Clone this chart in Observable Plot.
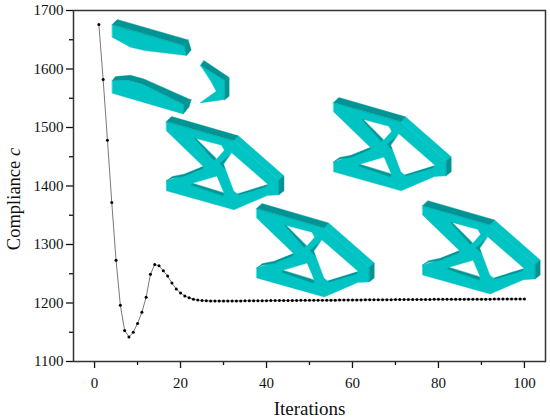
<!DOCTYPE html>
<html><head><meta charset="utf-8">
<script src="https://cdn.jsdelivr.net/npm/d3@7"></script>
<script src="https://cdn.jsdelivr.net/npm/@observablehq/plot@0.6"></script>
<style>html,body{margin:0;padding:0;background:#fff}</style>
</head><body><div id="chart"></div>
<script>
const iterations = d3.range(1,101);
const compliance = [1676,1582,1478,1372,1273,1196,1153,1142,1150,1165,1184,1210,1249,1266,1263.5,1255,1246,1234,1224,1217,
 1212,1209,1206.5,1205,1204.2,1203.8,1203.6,1203.5,1203.4,1203.4,1203.5,1203.5,1203.6,1203.6,1203.7,1203.8,1203.8,1203.9,1204,1204,
 1204.1,1204.2,1204.2,1204.3,1204.3,1204.4,1204.4,1204.5,1204.5,1204.6,1204.7,1204.7,1204.8,1204.8,1204.9,1204.9,1205,1205.1,1205.1,1205.2,
 1205.3,1205.3,1205.4,1205.4,1205.5,1205.6,1205.6,1205.7,1205.7,1205.8,1205.8,1205.9,1205.9,1206,1206,1206,1206.1,1206.1,1206.2,1206.2,
 1206.2,1206.3,1206.3,1206.4,1206.4,1206.4,1206.5,1206.5,1206.5,1206.6,1206.6,1206.6,1206.7,1206.7,1206.7,1206.8,1206.8,1206.8,1206.9,1206.9];
const series = iterations.map((x,i)=>({x,y:compliance[i]}));
const xMajor = [0,20,40,60,80,100], xMinor = [10,30,50,70,90];
const yMajor = [1100,1200,1300,1400,1500,1600,1700], yMinor = [1150,1250,1350,1450,1550,1650];

// Inset sketches: outline polygons in picture units, placed at data anchors
const UX = 12.9, UY = 1.755;
const trussAnchors = [[16.7,1518.8],[55.6,1551.3],[37.7,1370],[76.3,1375]];
const trussLight = [
 [[287,362],[490,420],[625,537],[625,582],[590,584],[490,627],[287,570],[287,540],[320,530],[398,497],[287,390]],
 [[490,420],[503,405],[640,525],[625,537]]];
const trussDark = [
 [[287,362],[303,347],[503,405],[490,420]],
 [[625,537],[640,525],[640,570],[625,582]],
 [[287,540],[305,527],[340,520],[398,497],[396,503],[340,526],[305,532]],
 [[372,412],[380,415],[437,472],[430,478]],
 [[362,552],[370,547],[458,573],[458,585]],
 [[500,578],[590,550],[586,558],[505,582]],
 [[448,488],[483,457],[460,490],[465,505]]];
const trussHoles = [
 [[380,415],[452,434],[460,448],[438,473]],
 [[483,457],[590,550],[500,578],[490,570],[460,490]],
 [[370,547],[438,527],[458,574]]];
const fragOrigin = [-5.58,1717];
const fragLight = [
 [[125,72],[340,135],[348,165],[222,150],[180,140],[125,110]],
 [[125,240],[170,238],[215,250],[340,312],[338,340],[125,278]],
 [[390,195],[463,240],[462,297],[388,307],[437,272],[420,240]]];
const fragDark = [
 [[125,72],[140,57],[353,118],[340,135]],
 [[353,118],[362,148],[348,165],[340,135]],
 [[125,240],[135,228],[180,224],[220,235],[362,298],[340,312],[215,250],[170,238]],
 [[362,298],[355,320],[338,340],[340,312]],
 [[400,180],[475,230],[463,240],[390,195]],
 [[463,240],[476,230],[476,287],[462,298]]];

let nextId = 0;
const place = (polys,[ax,ay],[ox,oy]) => polys.flatMap(p => {
  const id = nextId++;
  return p.map(([u,v]) => ({id, x: ax+(u-ox)/UX, y: ay-(v-oy)/UY}));
});
const light = [], dark = [], holes = [];
for (const a of trussAnchors) {
  light.push(...place(trussLight,a,[287,347]));
  dark.push(...place(trussDark,a,[287,347]));
  holes.push(...place(trussHoles,a,[287,347]));
}
light.push(...place(fragLight,fragOrigin,[0,0]));
dark.push(...place(fragDark,fragOrigin,[0,0]));
const poly = (d,fill) => Plot.line(d,{x:"x",y:"y",z:"id",fill,stroke:fill,strokeWidth:0.4,curve:"linear-closed"});

const plot = Plot.plot({
  width:550, height:420, marginLeft:73, marginRight:5, marginTop:10, marginBottom:59,
  style:{fontFamily:"'Liberation Serif',serif",fontSize:"15px",background:"#fff",color:"#111"},
  x:{domain:[-4.9,104.9]},
  y:{domain:[1100,1700]},
  marks:[
    poly(light,"#00c3c3"), poly(dark,"#009494"), poly(holes,"#fff"),
    Plot.line(series,{x:"x",y:"y",stroke:"#555",strokeWidth:0.8}),
    Plot.dot(series,{x:"x",y:"y",r:1.5,fill:"#000"}),
    Plot.axisX({ticks:xMinor,tickSize:4,tickFormat:()=>"",label:null,strokeWidth:1.3}),
    Plot.axisY({ticks:yMinor,tickSize:4,tickFormat:()=>"",label:null,strokeWidth:1.3}),
    Plot.axisX({ticks:xMajor,tickSize:7,tickPadding:9,tickFormat:"d",label:"Iterations",labelAnchor:"center",labelArrow:"none",labelOffset:53,strokeWidth:1.3}),
    Plot.axisY({ticks:yMajor,tickSize:7,tickPadding:3,tickFormat:"d",label:"Compliance c",labelAnchor:"center",labelArrow:"none",labelOffset:67,strokeWidth:1.3}),
    Plot.frame({stroke:"#333",strokeWidth:1.5})
  ]
});
d3.select(plot).selectAll('[aria-label="x-axis label"] text').style("font-size","19px");
d3.select(plot).selectAll('[aria-label="y-axis label"] text').style("font-size","18.5px").attr("dx",-13).each(function(){
  const t=d3.select(this); t.text("Compliance "); t.append("tspan").attr("font-style","italic").text("c");
});
document.getElementById("chart").append(plot);
</script></body></html>
